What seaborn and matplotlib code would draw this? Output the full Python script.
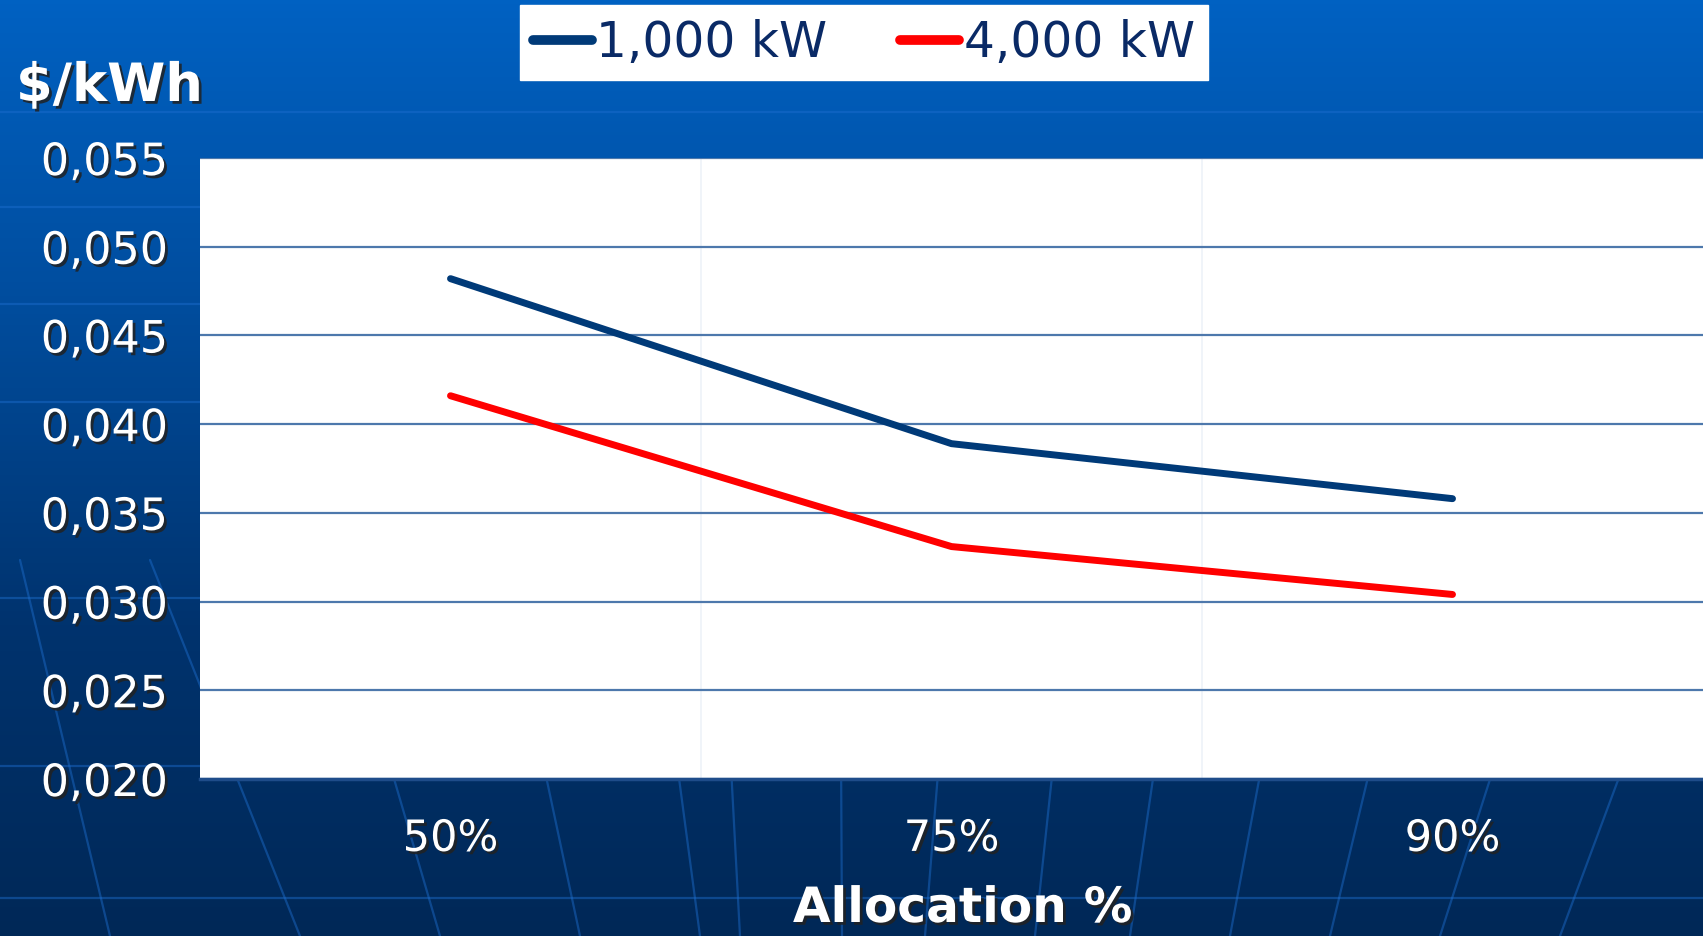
import numpy as np
import pandas as pd
import matplotlib
matplotlib.use("Agg")
import matplotlib.pyplot as plt
import matplotlib.patheffects as pe
from matplotlib.colors import LinearSegmentedColormap
from matplotlib.ticker import FixedLocator, FuncFormatter
import seaborn as sns

# data
allocation = ["50%", "75%", "90%"]
cost_1000kw = [0.0482, 0.0389, 0.0358]
cost_4000kw = [0.0416, 0.0331, 0.0304]
series_names = ["1,000 kW", "4,000 kW"]
y_ticks = [0.020, 0.025, 0.030, 0.035, 0.040, 0.045, 0.050, 0.055]

df = pd.DataFrame({
    "Allocation": allocation * 2,
    "Cost": cost_1000kw + cost_4000kw,
    "Series": [series_names[0]] * 3 + [series_names[1]] * 3,
})

sns.set_style("white")
plt.rcParams["font.family"] = ["DejaVu Sans"]

W, H = 1703, 936
fig = plt.figure(figsize=(W / 100, H / 100), dpi=100)

# blue gradient background with faint globe lines
bg = fig.add_axes([0, 0, 1, 1], zorder=0)
grad_cmap = LinearSegmentedColormap.from_list("bg", ["#0061C2", "#004C9C", "#00336E", "#002857"])
bg.imshow(np.linspace(0, 1, 256).reshape(-1, 1), aspect="auto", cmap=grad_cmap,
          extent=[0, W, H, 0])
for yy in [112, 207, 304, 402, 598, 766, 898]:
    bg.plot([0, W], [yy, yy], color="#1E6FD0", lw=1.6, alpha=0.45)
# meridians: (x at top y=560, x at bottom)
for xt, xb in [(20, 110), (150, 300), (330, 440), (500, 580), (650, 700),
               (720, 740), (840, 842), (955, 925), (1075, 1035), (1185, 1130),
               (1300, 1230), (1420, 1330), (1560, 1440), (1700, 1560)]:
    bg.plot([xt, xb], [560, H], color="#1E6FD0", lw=1.6, alpha=0.45)
bg.set_xlim(0, W)
bg.set_ylim(H, 0)
bg.axis("off")

ax = fig.add_axes([200 / W, 1 - 779 / H, 1 - 200 / W, (779 - 158) / H], zorder=2)
ax.set_facecolor("white")

sns.lineplot(data=df, x="Allocation", y="Cost", hue="Series",
             palette=["#003A78", "#FF0000"], linewidth=5, ax=ax,
             sort=False, legend=True)

ax.set_xlim(-0.5, 2.5)
ax.set_ylim(0.020, 0.055)
ax.yaxis.set_major_locator(FixedLocator(y_ticks))
ax.yaxis.set_major_formatter(FuncFormatter(lambda v, p: f"{v:.3f}".replace(".", ",")))
ax.grid(axis="y", color="#4D78AC", lw=1.6)
ax.set_axisbelow(True)
for xb in [0.5, 1.5]:
    ax.axvline(xb, color="#EEF2F8", lw=1.2, zorder=0)

for s in ["top", "right", "left"]:
    ax.spines[s].set_visible(False)
ax.spines["bottom"].set_color("#1E4C8A")
ax.spines["bottom"].set_linewidth(2.5)

shadow = [pe.SimplePatchShadow(offset=(2, -2), shadow_rgbFace="#222222", alpha=0.85), pe.Normal()]

ax.tick_params(axis="y", colors="white", labelsize=32, length=9, width=2, pad=14)
ax.tick_params(axis="x", which="major", length=0, labelsize=31, pad=28, labelcolor="white")
ax.set_xticks([0.5, 1.5], minor=True)
ax.tick_params(axis="x", which="minor", length=9, width=2, color="#1E4C8A")
for lab in ax.get_yticklabels() + ax.get_xticklabels():
    lab.set_path_effects(shadow)
ax.set_xlabel("")
ax.set_ylabel("")

fig.text(16 / W, 1 - 86 / H, "$/kWh", color="white", fontsize=38, fontweight="bold",
         ha="left", va="center", path_effects=shadow)
fig.text(963 / W, 1 - 908 / H, "Allocation %", color="white", fontsize=35, fontweight="bold",
         ha="center", va="center", path_effects=shadow)

handles, labels = ax.get_legend_handles_labels()
ax.legend_.remove()
leg = fig.legend(handles, labels, loc="upper center", bbox_to_anchor=(864 / W, 1 - 5 / H),
                 ncol=2, fontsize=35, frameon=True, fancybox=False, framealpha=1,
                 handlelength=1.2, handletextpad=0.1, columnspacing=1.5,
                 borderpad=0.28, borderaxespad=0)
leg.get_frame().set_facecolor("white")
leg.get_frame().set_edgecolor("white")
for t in leg.get_texts():
    t.set_color("#0A2A66")
for h in leg.legend_handles:
    h.set_linewidth(7)
    h.set_solid_capstyle("round")
leg.set_zorder(5)

fig.savefig("out.png", dpi=100)
